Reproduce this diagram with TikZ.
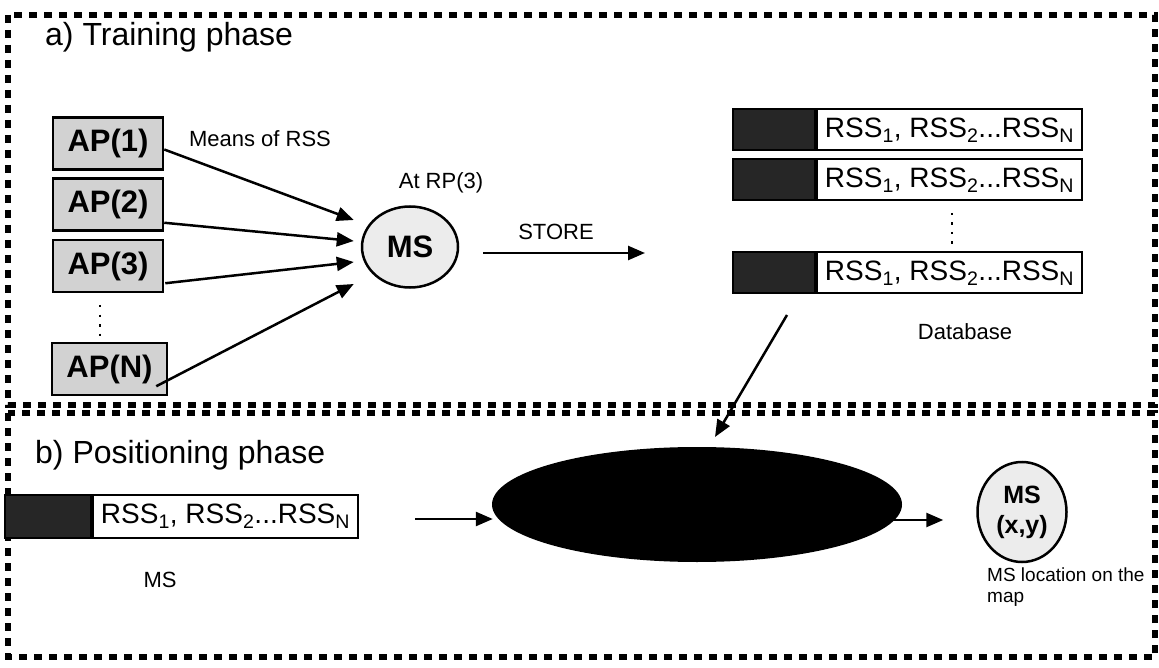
\documentclass[tikz,border=0pt]{standalone}
\usepackage{fontspec}
\setmainfont{Liberation Sans}
\usetikzlibrary{arrows.meta,calc,positioning,shapes.geometric}

\tikzset{
  phasebox/.style={line width=6pt, dash pattern=on 8pt off 7pt},
  phasetitle/.style={anchor=base west, inner sep=0pt, font=\fontsize{32}{34}\selectfont},
  apbox/.style={draw, line width=2.5pt, fill=gray!35, minimum width=110pt,
    minimum height=52pt, inner sep=0pt, font=\fontsize{31}{33}\selectfont\bfseries},
  rssbox/.style={draw, line width=2pt, fill=white, minimum width=265pt,
    minimum height=41pt, inner sep=0pt, font=\fontsize{28}{30}\selectfont},
  tagbox/.style={draw, line width=2pt, fill=black!85, minimum width=82pt,
    minimum height=41pt, inner sep=0pt, anchor=east},
  msnode/.style={draw, ellipse, line width=2.5pt, fill=gray!15, inner sep=0pt,
    align=center, font=\fontsize{31}{32}\selectfont\bfseries},
  txtlabel/.style={inner sep=0pt, font=\fontsize{22}{23}\selectfont},
  dotline/.style={line width=1.5pt, dash pattern=on 2.5pt off 7pt},
  link/.style={-{Triangle[length=17pt,width=14pt]}, line width=2.5pt}
}

\newcommand{\rssrow}{RSS\textsubscript{1}, RSS\textsubscript{2}...RSS\textsubscript{N}}

\begin{document}
\begin{tikzpicture}[x=1pt, y=-1pt]
  \useasboundingbox (0,0) rectangle (1159,668);

  % Phase frames
  \draw[phasebox] (8,15) rectangle (1155,405);
  \draw[phasebox] (8,413) rectangle (1155,657);
  \node[phasetitle] (titlea) at (45,46) {a) Training phase};
  \node[phasetitle] (titleb) at (35,463) {b) Positioning phase};

  % Access points
  \node[apbox] (ap1) at (108,143.5) {AP(1)};
  \node[apbox] (ap2) at (108,204.5) {AP(2)};
  \node[apbox] (ap3) at (108,266) {AP(3)};
  \node[apbox, minimum width=115pt] (apn) at (109.5,369) {AP(N)};
  \draw[dotline] (100,305) -- (100,338);

  % Mobile station at the reference point
  \node[msnode, minimum width=96pt, minimum height=81pt] (ms) at (410,247) {MS};
  \node[txtlabel] (means) at (260,139) {Means of RSS};
  \node[txtlabel] (atrp) at (441,183) {At RP(3)};

  \draw[link] ([yshift=-6pt]ap1.east) -- ($(ms.west)+(-7,-27)$);
  \draw[link] ($(ap2.south east)+(0,-9)$) -- ($(ms.west)+(-7,-6)$);
  \draw[link] ($(ap3.south east)+(1,-10)$) -- ($(ms.west)+(-7,15)$);
  \draw[link] ($(apn.south east)+(-12,-10)$) -- ($(ms.west)+(-7,37)$);

  % Store into the database
  \node[txtlabel] (store) at (556,232) {STORE};
  \coordinate (storefrom) at (483,253);
  \coordinate (storeto) at (645,253);
  \draw[link] (storefrom) -- (storeto);

  \node[rssbox] (db1) at (949.5,130) {\rssrow};
  \node[tagbox] (tag1) at (db1.west) {};
  \node[rssbox] (db2) at (949.5,180) {\rssrow};
  \node[tagbox] (tag2) at (db2.west) {};
  \node[rssbox] (db3) at (949.5,273) {\rssrow};
  \node[tagbox] (tag3) at (db3.west) {};
  \draw[dotline] (952,213) -- (952,248);
  \node[txtlabel] (database) at (965,332) {Database};

  % Positioning phase
  \node[rssbox, minimum height=43pt] (meas) at (225.5,516.5) {\rssrow};
  \node[tagbox, minimum width=86pt, minimum height=43pt] (tagm) at (meas.west) {};
  \node[txtlabel] (mslabel) at (160,580) {MS};

  \node[ellipse, fill=black, minimum width=410pt, minimum height=115pt] (algo) at (697,504.5) {};

  \node[msnode, minimum width=89pt, minimum height=100pt,
    font=\fontsize{25}{30}\selectfont\bfseries] (result) at (1022,512) {MS\\(x,y)};
  \node[txtlabel, anchor=north west, align=left,
    font=\fontsize{19}{21}\selectfont] (resultlabel) at (987,568) {MS location on the\\map};

  \coordinate (dbfrom) at (787,315);
  \coordinate (dbto) at (715,437);
  \draw[link] (dbfrom) -- (dbto);

  \coordinate (measfrom) at (415,519);
  \draw[link] (measfrom) -- ($(algo.west)+(1,14.5)$);
  \draw[link] ($(algo.east)+(-9,15.5)$) -- ($(result.west)+(-33,8)$);
\end{tikzpicture}
\end{document}
